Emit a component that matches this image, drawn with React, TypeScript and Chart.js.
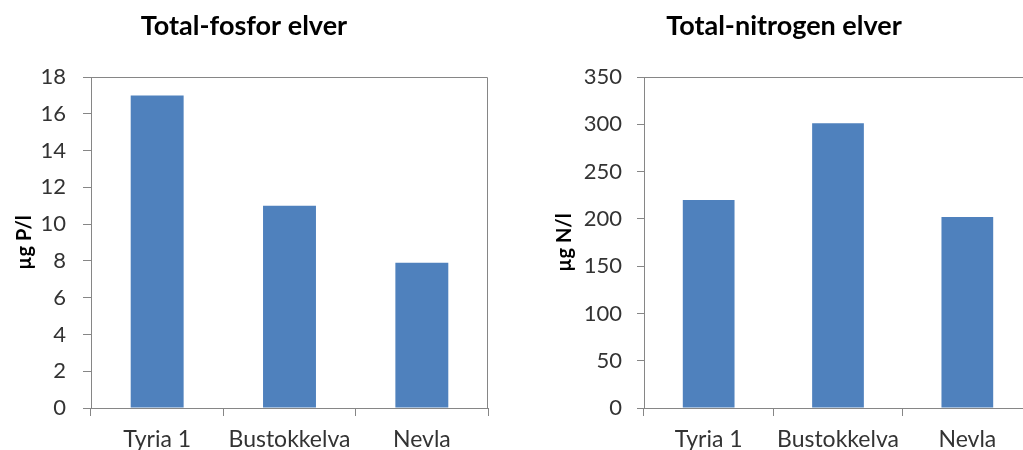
import React, { useEffect, useRef } from "react";
import { Chart, registerables } from "chart.js";

Chart.register(...registerables);

const categories = ["Tyria 1", "Bustokkelva", "Nevla"];
const phosphorusValues = [17, 11, 7.9];
const nitrogenValues = [220, 301, 202];
const phosphorusTitle = "Total-fosfor elver";
const nitrogenTitle = "Total-nitrogen elver";
const phosphorusUnit = "µg P/l";
const nitrogenUnit = "µg N/l";
const phosphorusAxis = { min: 0, max: 18, step: 2 };
const nitrogenAxis = { min: 0, max: 350, step: 50 };

const FONT = "Lato, 'Open Sans', sans-serif";
const AXIS_COLOR = "#868686";
const BAR_COLOR = "#4F81BD";

const frameBorder = {
  id: "frameBorder",
  afterDatasetsDraw(chart: any) {
    const { ctx, chartArea } = chart;
    ctx.save();
    ctx.strokeStyle = AXIS_COLOR;
    ctx.lineWidth = 1;
    ctx.beginPath();
    const l = Math.round(chartArea.left) + 0.5;
    const r = Math.round(chartArea.right) - 0.5;
    const t = Math.round(chartArea.top) + 0.5;
    ctx.moveTo(l, t);
    ctx.lineTo(r, t);
    ctx.lineTo(r, Math.round(chartArea.bottom));
    ctx.stroke();
    ctx.restore();
  },
};

type Cfg = {
  values: number[];
  title: string;
  unit: string;
  axis: { min: number; max: number; step: number };
  yWidth: number;
  yTitlePad: number;
  yTickLen: number;
  yTickPad: number;
};

function BarChart(props: Cfg & { left: number; width: number }) {
  const ref = useRef<HTMLCanvasElement | null>(null);
  useEffect(() => {
    if (!ref.current) return;
    const chart = new Chart(ref.current, {
      type: "bar",
      data: {
        labels: categories,
        datasets: [
          {
            data: props.values,
            backgroundColor: BAR_COLOR,
            borderWidth: 0,
            barPercentage: 0.4,
            categoryPercentage: 1,
          },
        ],
      },
      options: {
        responsive: false,
        animation: false,
        devicePixelRatio: 1,
        layout: { padding: { left: 0, right: 2, top: 0, bottom: 0 } },
        plugins: {
          legend: { display: false },
          tooltip: { enabled: false },
          title: {
            display: true,
            text: props.title,
            color: "#000",
            font: { family: FONT, size: 27, weight: "bold" },
            padding: { top: 10, bottom: 34.6 },
          },
        },
        scales: {
          x: {
            offset: true,
            grid: {
              offset: true,
              drawOnChartArea: false,
              drawTicks: true,
              tickLength: 8,
              color: AXIS_COLOR,
            },
            border: { display: true, color: AXIS_COLOR, width: 1 },
            ticks: {
              color: "#333",
              font: { family: FONT, size: 23 },
              padding: 10,
              maxRotation: 0,
              autoSkip: false,
            },
            afterFit: (s: any) => {
              s.height = 42;
            },
          },
          y: {
            min: props.axis.min,
            max: props.axis.max,
            grid: {
              drawOnChartArea: false,
              drawTicks: true,
              tickLength: props.yTickLen,
              color: AXIS_COLOR,
            },
            border: { display: true, color: AXIS_COLOR, width: 1 },
            ticks: {
              stepSize: props.axis.step,
              color: "#333",
              font: { family: FONT, size: 22 },
              padding: props.yTickPad,
            },
            title: {
              display: true,
              text: props.unit,
              color: "#000",
              font: { family: FONT, size: 20, weight: "bold" },
              padding: { top: props.yTitlePad, bottom: 0 },
            },
            afterFit: (s: any) => {
              s.width = props.yWidth;
            },
          },
        },
      },
      plugins: [frameBorder],
    });
    return () => chart.destroy();
  }, []);
  return (
    <canvas
      ref={ref}
      width={props.width}
      height={450}
      style={{ position: "absolute", left: props.left, top: 0, width: props.width, height: 450 }}
    />
  );
}

export default function App() {
  return (
    <div
      style={{
        position: "fixed",
        left: 0,
        top: 0,
        width: 1023,
        height: 450,
        overflow: "hidden",
        background: "#fff",
      }}
    >
      <BarChart
        left={0}
        width={490}
        values={phosphorusValues}
        title={phosphorusTitle}
        unit={phosphorusUnit}
        axis={phosphorusAxis}
        yWidth={91}
        yTitlePad={13}
        yTickLen={8}
        yTickPad={17}
      />
      <BarChart
        left={536}
        width={498}
        values={nitrogenValues}
        title={nitrogenTitle}
        unit={nitrogenUnit}
        axis={nitrogenAxis}
        yWidth={108}
        yTitlePad={17}
        yTickLen={7}
        yTickPad={15}
      />
    </div>
  );
}
